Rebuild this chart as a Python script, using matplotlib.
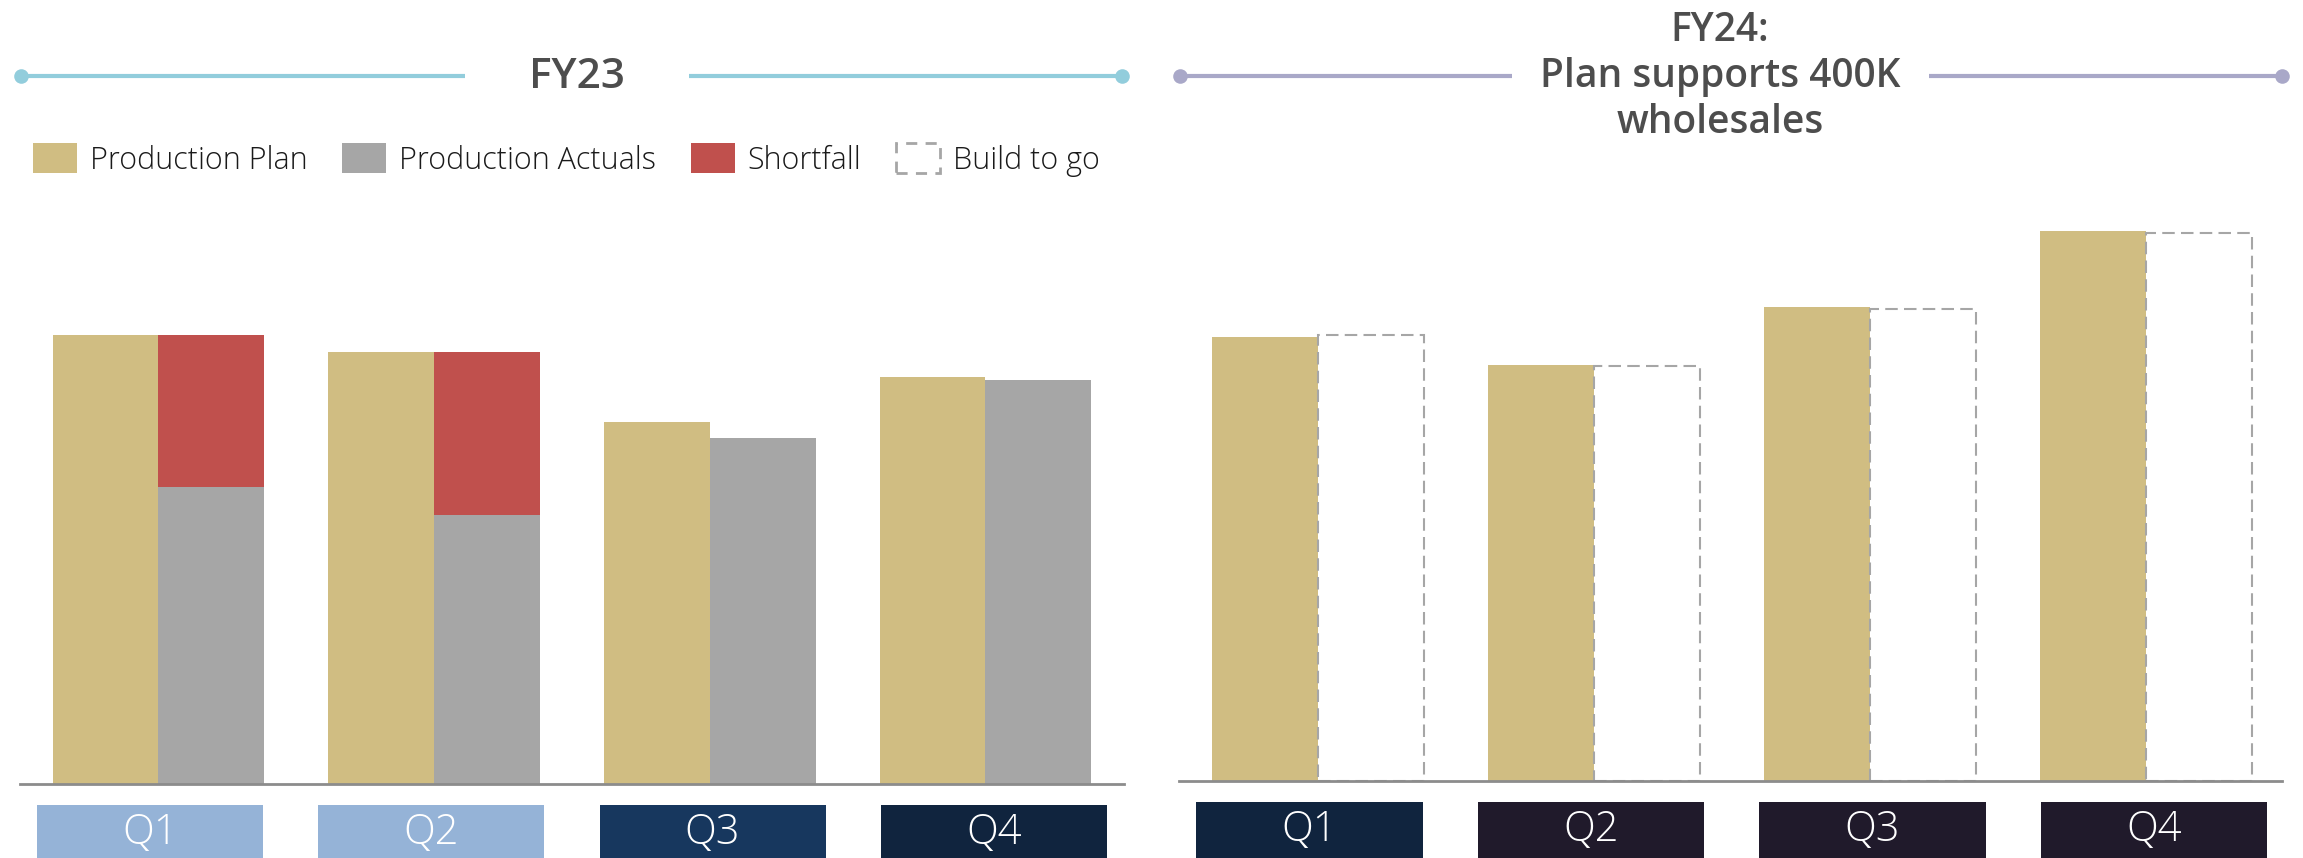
import matplotlib
matplotlib.use("Agg")
import matplotlib.pyplot as plt
import matplotlib.transforms as mtransforms
from matplotlib.patches import Patch, Rectangle
import numpy as np

# ---- data (thousand units) ----
quarters = ["Q1", "Q2", "Q3", "Q4"]
fy23_plan = [95.5, 91.9, 77.0, 86.6]
fy23_actual = [63.2, 57.2, 73.7, 86.0]
fy23_shortfall = [32.3, 34.7, 0.0, 0.0]
fy24_plan = [94.3, 88.4, 100.8, 117.0]
fy24_build_to_go = [94.8, 88.3, 100.3, 116.6]

fy23_title = "FY23"
fy24_title = "FY24:\nPlan supports 400K\nwholesales"
legend_labels = ["Production Plan", "Production Actuals", "Shortfall", "Build to go"]

# ---- styling ----
C_PLAN = "#D0BD82"
C_ACTUAL = "#A6A6A6"
C_SHORT = "#C0504D"
C_DASH = "#A6A6A6"
C_AXIS = "#8C8C8C"
C_TITLE = "#4D4D4D"
C_FY23_LINE = "#92CDDC"
C_FY24_LINE = "#A9A8C8"
fy23_box_colors = ["#95B3D7", "#95B3D7", "#17375E", "#10243E"]
fy24_box_colors = ["#10243E", "#201A2B", "#201A2B", "#201A2B"]

FONT = ["Open Sans", "DejaVu Sans"]
plt.rcParams["font.family"] = FONT

W, H, DPI = 2303, 858, 100
fig = plt.figure(figsize=(W / DPI, H / DPI), dpi=DPI)
fig.patch.set_facecolor("white")


def px_rect(x0, x1, y_bottom, y_top):
    return [x0 / W, 1 - y_bottom / H, (x1 - x0) / W, (y_bottom - y_top) / H]


# overlay in pixel space for headers and legend placement
ov = fig.add_axes([0, 0, 1, 1])
ov.set_xlim(0, W)
ov.set_ylim(H, 0)
ov.axis("off")

PX_PER_UNIT = 4.7
AX_H = 634
ax1 = fig.add_axes(px_rect(19.8, 1123.6, 784, 784 - AX_H))
ax2 = fig.add_axes(px_rect(1179.4, 2282, 780.7, 780.7 - AX_H))

x = np.arange(len(quarters))
w = 0.384

# FY23 bars
ax1.bar(x - w / 2, fy23_plan, w, color=C_PLAN, zorder=2)
ax1.bar(x + w / 2, fy23_actual, w, color=C_ACTUAL, zorder=2)
ax1.bar(x + w / 2, fy23_shortfall, w, bottom=fy23_actual, color=C_SHORT, zorder=3)
ax1.set_xlim(-0.503, 3.501)

# FY24 bars
ax2.bar(x - w / 2, fy24_plan, w, color=C_PLAN, zorder=2)
ax2.bar(x + w / 2, fy24_build_to_go, w, fill=False, edgecolor=C_DASH,
        linewidth=1.5, linestyle=(0, (6, 3)), zorder=2)
ax2.set_xlim(-0.501, 3.493)

box_step = 1.02
box_w = 0.82
for ax, colors in ((ax1, fy23_box_colors), (ax2, fy24_box_colors)):
    ax.set_ylim(0, AX_H / PX_PER_UNIT)
    ax.patch.set_visible(False)
    for s in ("top", "left", "right"):
        ax.spines[s].set_visible(False)
    ax.spines["bottom"].set_color(C_AXIS)
    ax.spines["bottom"].set_linewidth(2)
    ax.set_xticks([])
    ax.set_yticks([])
    trans = mtransforms.blended_transform_factory(ax.transData, ax.transAxes)
    y_top = -21 / AX_H
    y_bot = -80 / AX_H
    for i, (q, c) in enumerate(zip(quarters, colors)):
        cx = -0.03 + box_step * i
        ax.add_patch(Rectangle((cx - box_w / 2, y_bot), box_w, y_top - y_bot,
                               transform=trans, facecolor=c, edgecolor="none",
                               clip_on=False, zorder=4))
        ax.text(cx, -49 / AX_H, q, transform=trans, ha="center",
                va="center", color="white", fontsize=30, fontweight="light",
                zorder=5, clip_on=False)

# header rules with end dots
def header(x0, x1, x2, x3, y, color):
    ov.plot([x0, x1], [y, y], color=color, lw=3, solid_capstyle="butt")
    ov.plot([x2, x3], [y, y], color=color, lw=3, solid_capstyle="butt")
    ov.plot([x0, x3], [y, y], "o", color=color, ms=10.5, mec="none")

header(20.5, 465, 689, 1122, 75.5, C_FY23_LINE)
header(1180, 1512, 1929, 2282, 76, C_FY24_LINE)

ov.text(577, 77, fy23_title, ha="center", va="center", fontsize=30.5,
        fontweight="semibold", color=C_TITLE)
ov.text(1720, 77, fy24_title, ha="center", va="center", fontsize=28,
        fontweight="semibold", color=C_TITLE, linespacing=1.2,
        multialignment="center")

handles = [
    Patch(facecolor=C_PLAN, edgecolor="none"),
    Patch(facecolor=C_ACTUAL, edgecolor="none"),
    Patch(facecolor=C_SHORT, edgecolor="none"),
    Patch(facecolor="white", edgecolor=C_DASH, linewidth=2, linestyle=(0, (4, 3))),
]
ov.legend(handles, legend_labels, loc="center left", bbox_to_anchor=(33, 160),
          bbox_transform=ov.transData, ncol=4, frameon=False,
          handlelength=1.44, handleheight=1.11, handletextpad=0.41,
          columnspacing=1.15, borderpad=0, borderaxespad=0,
          labelcolor="#1A1A1A", prop={"family": FONT, "weight": "light", "size": 22})

fig.savefig("out.png", dpi=DPI)
